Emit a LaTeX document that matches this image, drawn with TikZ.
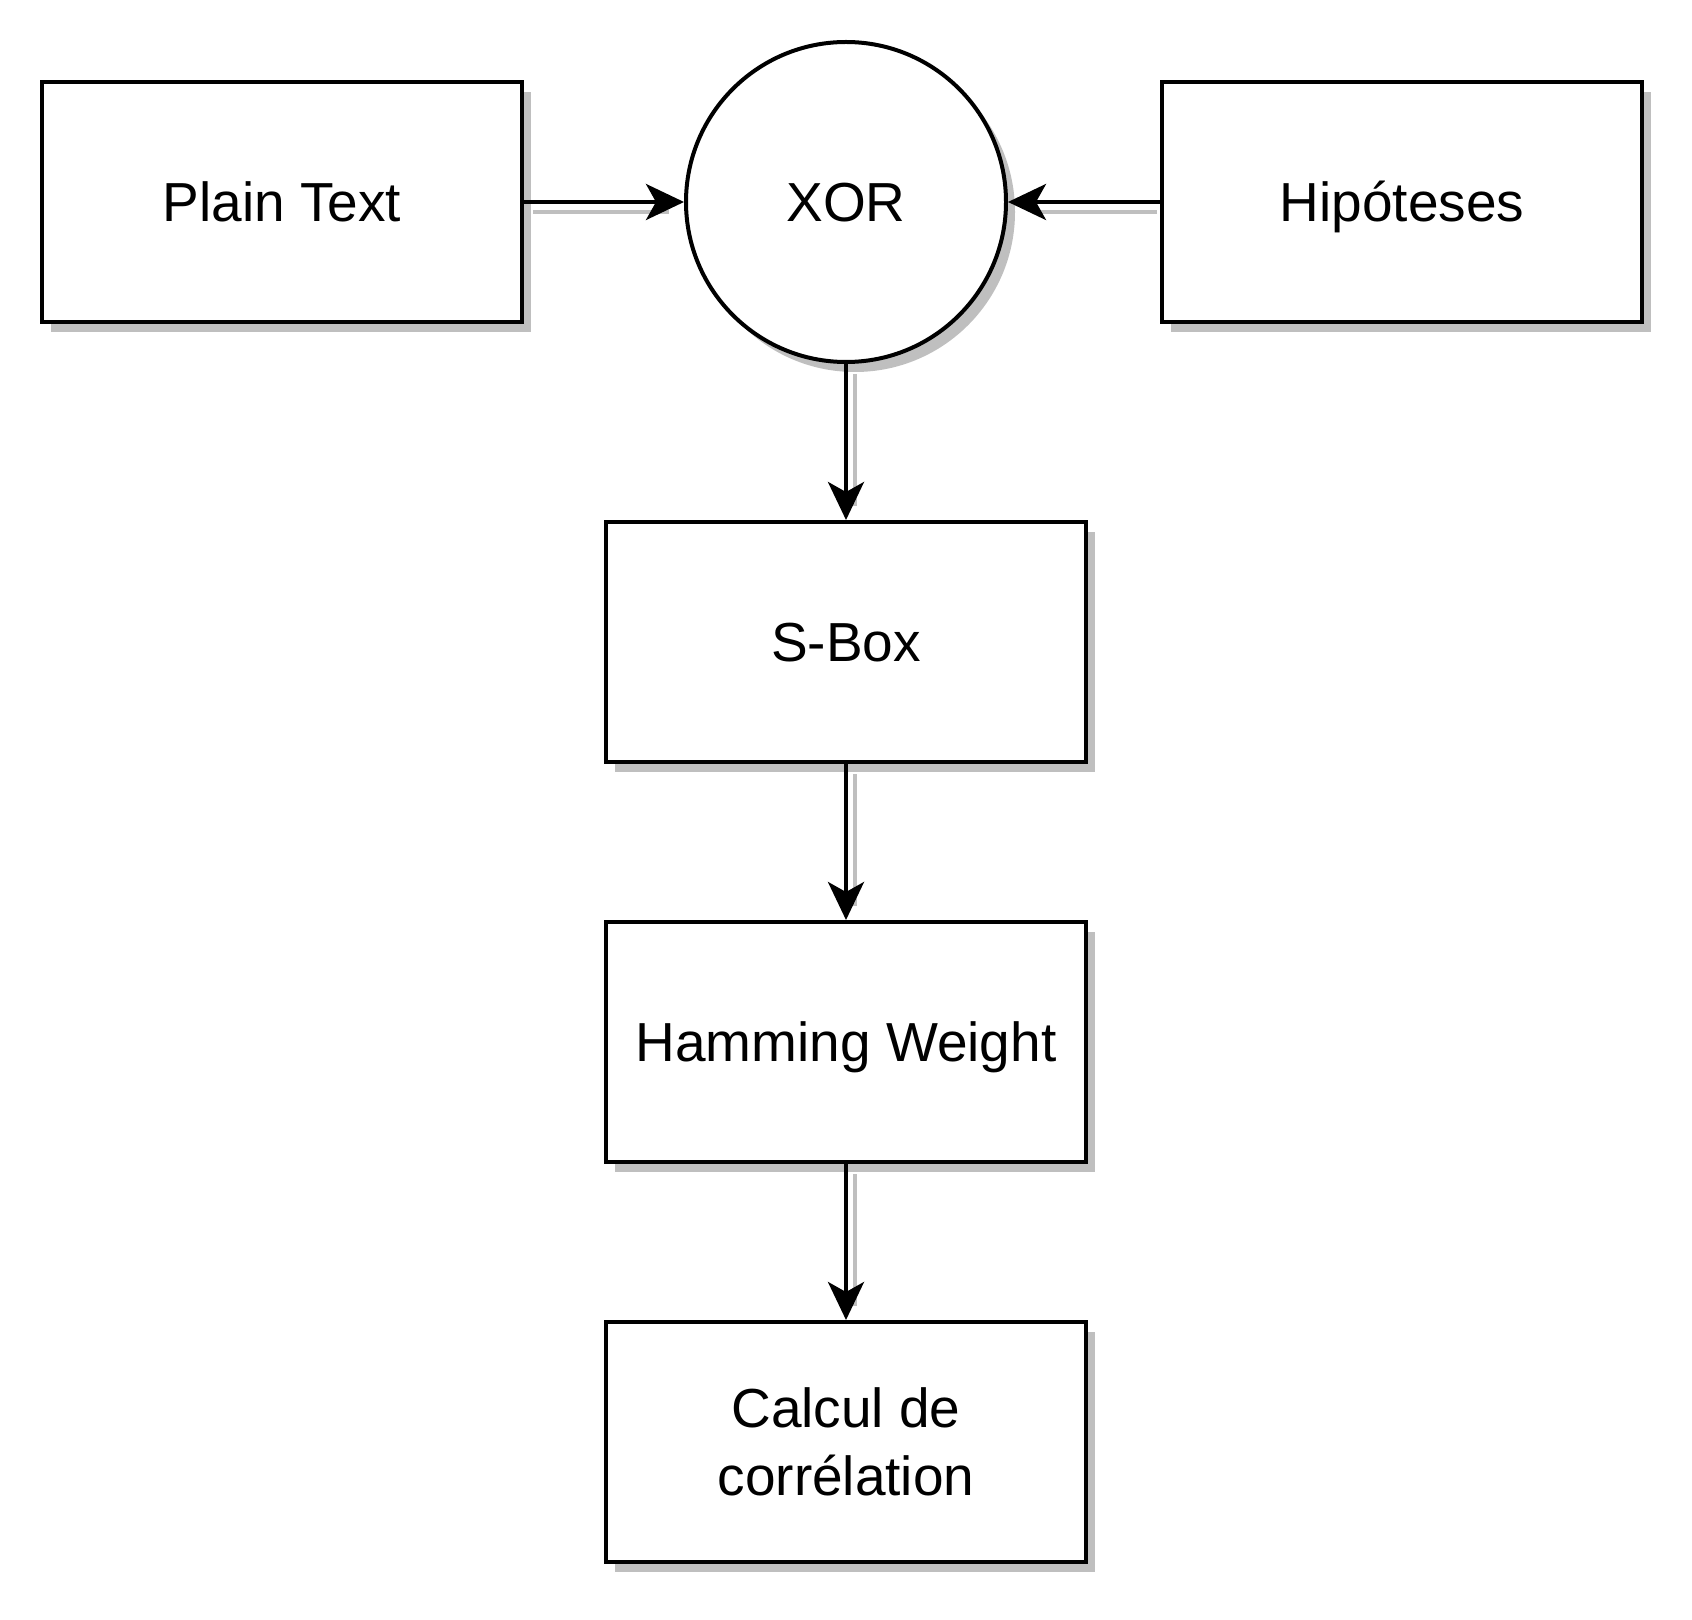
\documentclass[tikz,border=0pt]{standalone}
\usepackage{fontspec}
\setmainfont{Liberation Sans}
\usetikzlibrary{arrows.meta,shadows}
\tikzset{
  blk/.style={draw, line width=2pt, fill=white, minimum width=240pt, minimum height=120pt,
    align=center, font=\fontsize{27.5pt}{34pt}\selectfont,
    drop shadow={shadow xshift=4.5pt, shadow yshift=-5pt, fill=black!25, opacity=1}},
  oneline/.style={text height=25pt, text depth=5.3pt},
  gate/.style={blk, oneline, circle, minimum width=160pt, minimum height=160pt, inner sep=0pt},
  flow/.style={line width=2pt, -{Stealth[length=19pt,width=18pt,inset=5pt]},
    preaction={draw, black!25, line width=2pt, -, shorten >=12pt, shorten <=#1,
      transform canvas={shift={(4.5pt,-5pt)}}}},
  flow/.default=0pt,
}

\begin{document}
\begin{tikzpicture}[x=0.5pt,y=-0.5pt]
\useasboundingbox (0,0) rectangle (1692,1620);
\node[blk,oneline] (plain) at (282,202) {Plain Text};
\node[gate] (xor) at (846,202) {XOR};
\node[blk,oneline] (hyp) at (1402,202) {Hipóteses};
\node[blk,oneline] (sbox) at (846,642) {S-Box};
\node[blk,oneline] (hw) at (846,1042) {Hamming Weight};
\node[blk] (corr) at (846,1442) {Calcul de\\corrélation};
% inputs of the xor
\draw[flow] (plain.east) -- (xor.west);
\draw[flow=6pt] (hyp.west) -- (xor.east);
% chain down
\draw[flow] (xor.south) -- (sbox.north);
\draw[flow] (sbox.south) -- (hw.north);
\draw[flow] (hw.south) -- (corr.north);
\end{tikzpicture}
\end{document}
